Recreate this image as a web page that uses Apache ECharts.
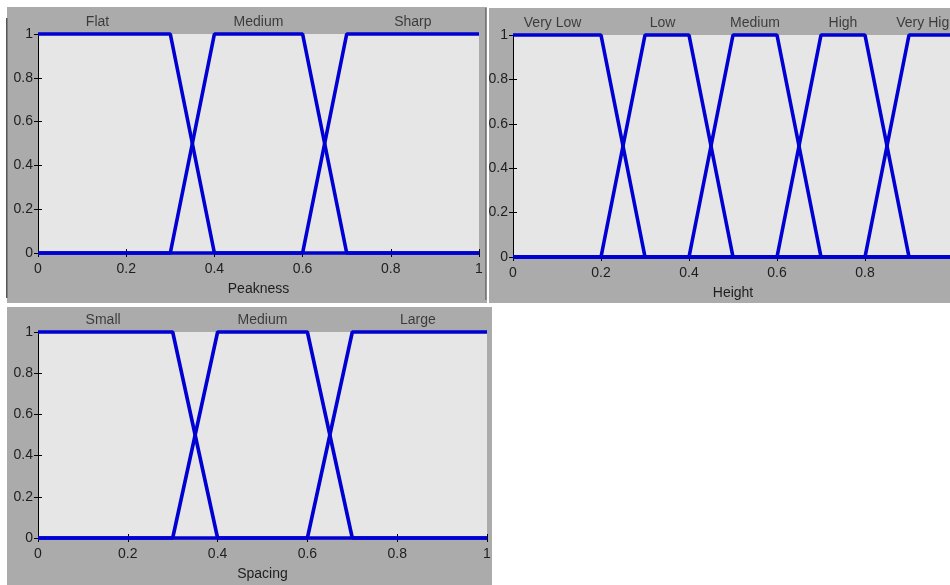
<!DOCTYPE html>
<html><head><meta charset="utf-8">
<script src="https://cdn.jsdelivr.net/npm/echarts@6/dist/echarts.min.js"></script>
<style>html,body{margin:0;padding:0;background:#fff;overflow:hidden}#c{width:950px;height:585px}</style>
</head><body><div id="c"></div>
<script>
// ---- data ----
const peaknessNames = ['Flat', 'Medium', 'Sharp'];
const peaknessMF = [[0, 0, 0.3, 0.4], [0.3, 0.4, 0.6, 0.7], [0.6, 0.7, 1, 1]];
const peaknessLabelX = [0.135, 0.5, 0.85];

const heightNames = ['Very Low', 'Low', 'Medium', 'High', 'Very High'];
const heightMF = [[0, 0, 0.2, 0.3], [0.2, 0.3, 0.4, 0.5], [0.4, 0.5, 0.6, 0.7], [0.6, 0.7, 0.8, 0.9], [0.8, 0.9, 1, 1]];
const heightLabelX = [0.09, 0.34, 0.55, 0.75, 0.94];

const spacingNames = ['Small', 'Medium', 'Large'];
const spacingMF = [[0, 0, 0.3, 0.4], [0.3, 0.4, 0.6, 0.7], [0.6, 0.7, 1, 1]];
const spacingLabelX = [0.145, 0.5, 0.846];

const axisTitles = ['Peakness', 'Height', 'Spacing'];

// ---- helpers ----
function mu(x, p) {
  const [a, b, c, d] = p;
  const up = b === a ? (x >= a ? 1 : 0) : (x - a) / (b - a);
  const dn = d === c ? (x <= d ? 1 : 0) : (d - x) / (d - c);
  return Math.max(0, Math.min(up, 1, dn));
}
function mfPoints(p) {
  const xs = [0, p[0], p[1], p[2], p[3], 1];
  const pts = [];
  xs.forEach(x => {
    const last = pts[pts.length - 1];
    if (last && last[0] === x) return;
    pts.push([x, mu(x, p)]);
  });
  return pts;
}

const BLUE = '#0000d2';
const TXT = '#1e1e1e';
const FONT = 'Liberation Sans, Arial, sans-serif';
const FS = 14;

const grids = [
  { left: 38, top: 34, width: 441, height: 219 },
  { left: 513, top: 35, width: 440, height: 222 },
  { left: 38, top: 332, width: 449, height: 206 }
];
const panels = [
  { names: peaknessNames, mf: peaknessMF, lx: peaknessLabelX },
  { names: heightNames, mf: heightMF, lx: heightLabelX },
  { names: spacingNames, mf: spacingMF, lx: spacingLabelX }
];

const xAxis = [], yAxis = [], series = [];
grids.forEach((g, i) => {
  const common = { type: 'value', min: 0, max: 1, interval: 0.2, gridIndex: i, splitLine: { show: false },
    axisLine: { show: true, lineStyle: { color: '#000', width: 1 } },
    axisTick: { show: true, inside: true, length: 4, lineStyle: { color: '#000' } } };
  xAxis.push(Object.assign({}, common, { position: 'bottom',
    axisLabel: { color: TXT, fontFamily: FONT, fontSize: FS, margin: 9, formatter: v => String(+v.toFixed(1)) },
    name: axisTitles[i], nameLocation: 'middle', nameGap: 29,
    nameTextStyle: { color: TXT, fontFamily: FONT, fontSize: FS } }));
  xAxis.push(Object.assign({}, common, { position: 'top', axisLabel: { show: false } }));
  yAxis.push(Object.assign({}, common, { position: 'left',
    axisLabel: { color: TXT, fontFamily: FONT, fontSize: FS, margin: 5, formatter: v => String(+v.toFixed(1)) } }));
  yAxis.push(Object.assign({}, common, { position: 'right', axisLabel: { show: false } }));
  const P = panels[i];
  P.mf.forEach(p => {
    series.push({ type: 'line', xAxisIndex: 2 * i, yAxisIndex: 2 * i, data: mfPoints(p), symbol: 'none',
      clip: false, z: 5, lineStyle: { color: BLUE, width: 3.6 }, silent: true, animation: false });
  });
  series.push({ type: 'scatter', xAxisIndex: 2 * i, yAxisIndex: 2 * i, symbolSize: 0, clip: false, silent: true,
    data: P.lx.map((x, k) => ({ value: [x, 1], name: P.names[k] })),
    label: { show: true, position: 'top', distance: 5, formatter: d => d.name, color: TXT, fontFamily: FONT, fontSize: FS },
    animation: false });
});

const chart = echarts.init(document.getElementById('c'), null, { renderer: 'canvas' });
chart.setOption({
  backgroundColor: '#ffffff',
  animation: false,
  graphic: [
    { type: 'rect', z: -10, shape: { x: 7, y: 7, width: 480, height: 296 }, style: { fill: '#ababab' } },
    { type: 'rect', z: -10, shape: { x: 489, y: 8, width: 461, height: 295 }, style: { fill: '#ababab' } },
    { type: 'rect', z: -10, shape: { x: 7, y: 307, width: 485, height: 278 }, style: { fill: '#ababab' } },
    { type: 'rect', z: -9, shape: { x: 6, y: 18, width: 1.5, height: 280 }, style: { fill: '#555' } },
    { type: 'rect', z: -9, shape: { x: 485, y: 8, width: 1.5, height: 292 }, style: { fill: '#777' } }
  ],
  grid: grids.map(g => Object.assign({ show: true, backgroundColor: '#e6e6e6', borderWidth: 0, containLabel: false, outerBoundsMode: 'none' }, g)),
  xAxis, yAxis, series
});
</script></body></html>
